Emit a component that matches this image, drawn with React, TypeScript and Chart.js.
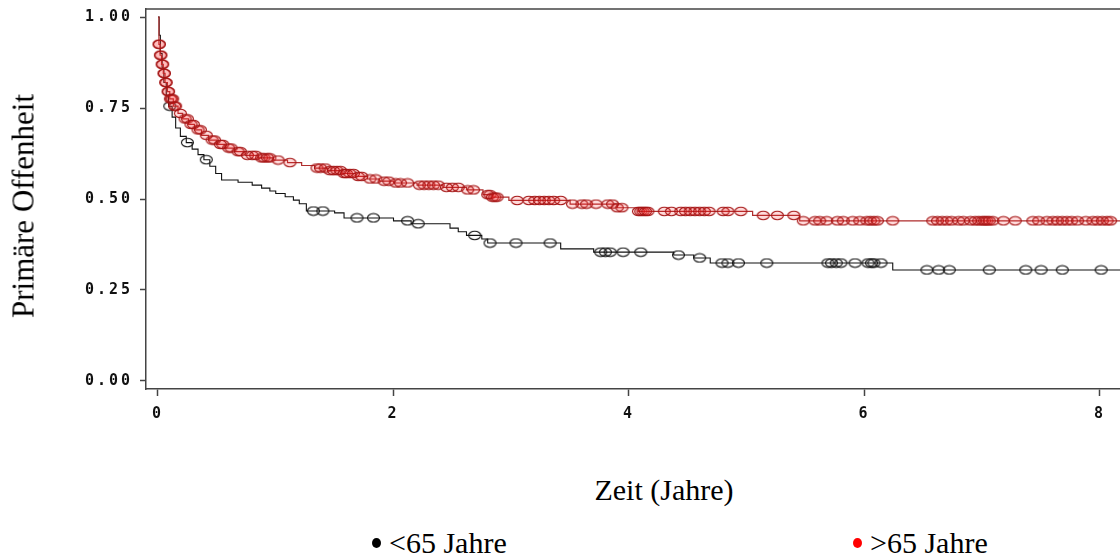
import React, { useEffect, useRef } from "react";
import { Chart, registerables } from "chart.js";

Chart.register(...registerables);

// ---------- data ----------
const BLACK_TIMES = [0, 0.01, 0.02, 0.035, 0.05, 0.07, 0.09, 0.12, 0.15, 0.19, 0.24, 0.29, 0.34, 0.39, 0.44, 0.49, 0.54, 0.68, 0.8, 0.88, 0.95, 1.0, 1.08, 1.15, 1.2, 1.26, 1.5, 1.58, 2.0, 2.15, 2.48, 2.55, 2.62, 2.75, 2.8, 3.42, 3.7, 4.38, 4.55, 4.69, 6.24];
const BLACK_SURV = [1.0, 0.95, 0.9, 0.86, 0.82, 0.785, 0.755, 0.725, 0.695, 0.672, 0.655, 0.637, 0.622, 0.608, 0.59, 0.57, 0.552, 0.546, 0.538, 0.53, 0.522, 0.515, 0.506, 0.497, 0.487, 0.467, 0.462, 0.448, 0.44, 0.432, 0.42, 0.41, 0.4, 0.39, 0.379, 0.363, 0.354, 0.346, 0.338, 0.324, 0.305];
const BLACK_CENSOR = [0.1, 0.25, 0.41, 1.32, 1.4, 1.69, 1.83, 2.12, 2.21, 2.69, 2.82, 3.04, 3.33, 3.76, 3.8, 3.84, 3.95, 4.1, 4.42, 4.6, 4.79, 4.84, 4.93, 5.17, 5.69, 5.72, 5.76, 5.8, 5.92, 6.03, 6.06, 6.08, 6.14, 6.53, 6.63, 6.72, 7.06, 7.37, 7.5, 7.68, 8.01];

const RED_TIMES = [0, 0.008, 0.018, 0.03, 0.045, 0.06, 0.08, 0.1, 0.13, 0.17, 0.21, 0.26, 0.31, 0.37, 0.43, 0.5, 0.57, 0.65, 0.74, 0.85, 0.98, 1.1, 1.22, 1.33, 1.44, 1.56, 1.68, 1.78, 1.88, 2.0, 2.2, 2.42, 2.62, 2.76, 2.84, 2.98, 3.5, 3.9, 4.08, 5.05, 5.45];
const RED_SURV = [1.0, 0.925, 0.895, 0.87, 0.845, 0.82, 0.795, 0.775, 0.755, 0.735, 0.72, 0.705, 0.69, 0.675, 0.662, 0.65, 0.64, 0.63, 0.62, 0.613, 0.607, 0.6, 0.592, 0.585, 0.578, 0.57, 0.562, 0.555, 0.549, 0.544, 0.538, 0.532, 0.525, 0.512, 0.505, 0.496, 0.486, 0.476, 0.466, 0.455, 0.44];
const RED_CENSOR = [0.008, 0.012, 0.02, 0.025, 0.035, 0.04, 0.05, 0.055, 0.065, 0.07, 0.085, 0.09, 0.105, 0.115, 0.125, 0.14, 0.15, 0.19, 0.23, 0.25, 0.28, 0.3, 0.34, 0.36, 0.41, 0.46, 0.48, 0.53, 0.55, 0.6, 0.62, 0.68, 0.7, 0.76, 0.8, 0.83, 0.88, 0.9, 0.93, 0.95, 1.02, 1.12, 1.35, 1.38, 1.42, 1.46, 1.49, 1.52, 1.55, 1.58, 1.6, 1.63, 1.66, 1.7, 1.73, 1.8, 1.85, 1.92, 1.96, 2.02, 2.06, 2.12, 2.22, 2.26, 2.3, 2.34, 2.38, 2.45, 2.5, 2.55, 2.63, 2.68, 2.8, 2.82, 2.84, 2.86, 2.88, 3.05, 3.15, 3.2, 3.24, 3.28, 3.32, 3.36, 3.42, 3.52, 3.6, 3.64, 3.72, 3.82, 3.86, 3.9, 3.94, 4.08, 4.1, 4.12, 4.14, 4.16, 4.3, 4.36, 4.44, 4.48, 4.52, 4.56, 4.6, 4.64, 4.68, 4.8, 4.84, 4.95, 5.14, 5.26, 5.4, 5.48, 5.58, 5.62, 5.68, 5.77, 5.82, 5.9, 5.96, 6.02, 6.05, 6.08, 6.11, 6.24, 6.58, 6.62, 6.66, 6.7, 6.74, 6.8, 6.84, 6.9, 6.94, 6.97, 7.0, 7.02, 7.04, 7.06, 7.09, 7.18, 7.28, 7.43, 7.48, 7.55, 7.6, 7.64, 7.68, 7.72, 7.76, 7.81, 7.88, 7.94, 7.98, 8.02, 8.06, 8.09];

const END_TIME = 8.3;
const X_TICKS = [0, 2, 4, 6, 8];
const Y_TICKS = [0, 0.25, 0.5, 0.75, 1.0];
const Y_TITLE = "Primäre Offenheit";
const X_TITLE = "Zeit (Jahre)";
const LEGEND_LABELS = ["<65 Jahre", ">65 Jahre"];

// ---------- helpers ----------
function survAt(times: number[], surv: number[], t: number) {
  let v = surv[0];
  for (let i = 0; i < times.length; i++) if (times[i] <= t) v = surv[i];
  return v;
}
function stepData(times: number[], surv: number[]) {
  const d = times.map((t, i) => ({ x: t, y: surv[i] }));
  d.push({ x: END_TIME, y: surv[surv.length - 1] });
  return d;
}
function censorData(censor: number[], times: number[], surv: number[]) {
  return censor.map((t) => ({ x: t, y: survAt(times, surv, t) }));
}
function makeMarker(stroke: string, fill: string | null) {
  const c = document.createElement("canvas");
  c.width = 15;
  c.height = 11;
  const g = c.getContext("2d")!;
  g.beginPath();
  g.ellipse(7.5, 5.5, 6, 4.2, 0, 0, Math.PI * 2);
  if (fill) {
    g.fillStyle = fill;
    g.fill();
  }
  g.strokeStyle = stroke;
  g.lineWidth = 1.1;
  g.stroke();
  return c;
}

const AXIS_COLOR = "#444";
const TICK_FONT = { family: "'DejaVu Sans Mono', monospace", size: 15, weight: "bold" as const };

export default function App() {
  const ref = useRef<HTMLCanvasElement | null>(null);

  useEffect(() => {
    const canvas = ref.current!;
    const blackMarker = makeMarker("#111", null);
    const redMarker = makeMarker("rgb(165,22,22)", "rgba(255,30,30,0.16)");

    const framePlugin = {
      id: "frameTop",
      beforeDraw(chart: any) {
        try {
          (chart.ctx as any).letterSpacing = "3px";
        } catch (e) {}
      },
      afterDraw(chart: any) {
        const { ctx, chartArea } = chart;
        ctx.save();
        ctx.strokeStyle = AXIS_COLOR;
        ctx.lineWidth = 1.5;
        ctx.beginPath();
        ctx.moveTo(chartArea.left, chartArea.top);
        ctx.lineTo(chartArea.right, chartArea.top);
        ctx.stroke();
        ctx.restore();
      },
    };

    const chart = new Chart(canvas, {
      type: "scatter",
      data: {
        datasets: [
          {
            label: "red censor",
            data: censorData(RED_CENSOR, RED_TIMES, RED_SURV),
            pointStyle: redMarker as any,
            pointRadius: 6,
            showLine: false,
            order: 1,
          },
          {
            label: "red",
            data: stepData(RED_TIMES, RED_SURV),
            showLine: true,
            stepped: "before",
            borderColor: "rgb(175,45,45)",
            borderWidth: 1.2,
            pointRadius: 0,
            order: 2,
          },
          {
            label: "black censor",
            data: censorData(BLACK_CENSOR, BLACK_TIMES, BLACK_SURV),
            pointStyle: blackMarker as any,
            pointRadius: 6,
            showLine: false,
            order: 3,
          },
          {
            label: "black",
            data: stepData(BLACK_TIMES, BLACK_SURV),
            showLine: true,
            stepped: "before",
            borderColor: "#111",
            borderWidth: 1.1,
            pointRadius: 0,
            order: 4,
          },
        ] as any,
      },
      options: {
        animation: false,
        responsive: false,
        devicePixelRatio: 1,
        layout: { padding: { left: 0, top: 9, right: 10, bottom: 0 } },
        plugins: { legend: { display: false }, tooltip: { enabled: false } },
        scales: {
          x: {
            type: "linear",
            min: -0.1019,
            max: 8.255,
            afterFit: (s: any) => {
              s.height = 41;
              s.paddingLeft = 0;
              s.paddingRight = 0;
            },
            afterBuildTicks: (s: any) => {
              s.ticks = X_TICKS.map((v) => ({ value: v }));
            },
            ticks: {
              font: TICK_FONT,
              color: "#111",
              padding: 9,
              maxRotation: 0,
              callback: (v: any) => String(v),
            },
            grid: {
              display: true,
              drawOnChartArea: false,
              drawTicks: true,
              tickLength: 7,
              tickColor: AXIS_COLOR,
              tickWidth: 1.5,
            },
            border: { display: true, color: AXIS_COLOR, width: 1.5 },
          },
          y: {
            type: "linear",
            min: -0.022,
            max: 1.022,
            afterFit: (s: any) => {
              s.width = 146;
              s.paddingTop = 0;
              s.paddingBottom = 0;
            },
            afterBuildTicks: (s: any) => {
              s.ticks = Y_TICKS.map((v) => ({ value: v }));
            },
            ticks: {
              font: TICK_FONT,
              color: "#111",
              padding: 7,
              callback: (v: any) => Number(v).toFixed(2),
            },
            grid: {
              display: true,
              drawOnChartArea: false,
              drawTicks: true,
              tickLength: 6,
              tickColor: AXIS_COLOR,
              tickWidth: 1.5,
            },
            border: { display: true, color: AXIS_COLOR, width: 1.5 },
          },
        },
      },
      plugins: [framePlugin],
    });
    return () => chart.destroy();
  }, []);

  const serif = "'Liberation Serif', 'Times New Roman', serif";
  return (
    <div
      style={{
        position: "fixed",
        left: 0,
        top: 0,
        width: 1120,
        height: 559,
        overflow: "hidden",
        background: "#fff",
      }}
    >
      <canvas
        ref={ref}
        width={1140}
        height={430}
        style={{ position: "absolute", left: 0, top: 0, width: 1140, height: 430 }}
      />
      <div
        style={{
          position: "absolute",
          left: 23,
          top: 206,
          transform: "translate(-50%, -50%) rotate(-90deg)",
          fontFamily: serif,
          fontSize: 31,
          lineHeight: "31px",
          whiteSpace: "nowrap",
          color: "#000",
        }}
      >
        {Y_TITLE}
      </div>
      <div
        style={{
          position: "absolute",
          left: 664,
          top: 475,
          transform: "translateX(-50%)",
          fontFamily: serif,
          fontSize: 30,
          lineHeight: "30px",
          whiteSpace: "nowrap",
          color: "#000",
        }}
      >
        {X_TITLE}
      </div>
      <div
        style={{
          position: "absolute",
          left: 372,
          top: 528,
          display: "flex",
          alignItems: "center",
          fontFamily: serif,
          fontSize: 30,
          lineHeight: "30px",
          whiteSpace: "nowrap",
          color: "#000",
        }}
      >
        <span style={{ display: "inline-block", width: 9, height: 10, borderRadius: "50%", background: "#000", marginRight: 8 }} />
        {LEGEND_LABELS[0]}
      </div>
      <div
        style={{
          position: "absolute",
          left: 853,
          top: 528,
          display: "flex",
          alignItems: "center",
          fontFamily: serif,
          fontSize: 30,
          lineHeight: "30px",
          whiteSpace: "nowrap",
          color: "#000",
        }}
      >
        <span style={{ display: "inline-block", width: 9, height: 10, borderRadius: "50%", background: "#ff0000", marginRight: 8 }} />
        {LEGEND_LABELS[1]}
      </div>
    </div>
  );
}
